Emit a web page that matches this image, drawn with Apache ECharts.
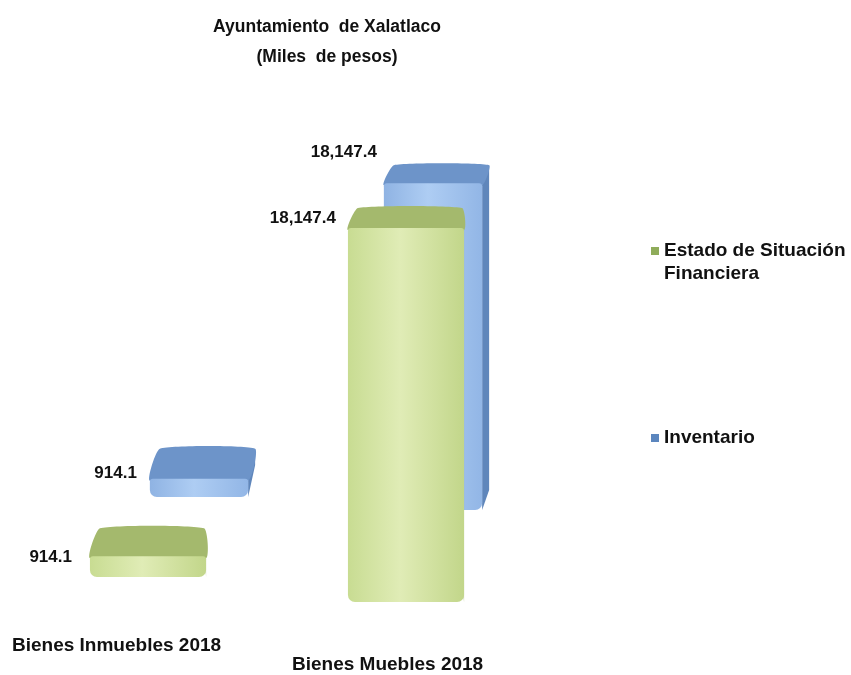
<!DOCTYPE html>
<html><head><meta charset="utf-8">
<script src="https://cdn.jsdelivr.net/npm/echarts@6/dist/echarts.min.js"></script>
<style>html,body{margin:0;padding:0;background:#fff}#c{width:851px;height:675px}</style>
</head><body><div id="c"></div>
<script>
var categories = ['Bienes Inmuebles 2018', 'Bienes Muebles 2018'];
var seriesNames = ['Estado de Situación\nFinanciera', 'Inventario'];
var estadoValues = [914.1, 18147.4];
var inventarioValues = [914.1, 18147.4];
var titleLines = ['Ayuntamiento  de Xalatlaco', '(Miles  de pesos)'];

var FONT = '"Liberation Sans", Arial, sans-serif';
function fmt(v){ return v.toLocaleString('en-US',{minimumFractionDigits:1,maximumFractionDigits:1}); }

function makeRender(cfg){
  return function(params, api){
    var i = api.value(0), v = api.value(1);
    var base = api.coord([i, 0]), top = api.coord([i, v]);
    var w = api.size([1, 0])[0] * cfg.ratio;
    var slant = i * cfg.slant;
    var x0 = base[0] - w/2, x1 = base[0] + w/2;
    var yB = base[1] + slant, yT = top[1] + slant;
    var d = cfg.depth[i];
    var dxL = cfg.dxL, dxR = cfg.dxR;
    return {type:'group', children:[
      {type:'polygon', shape:{points:[[x1,yT],[x1+dxR,yT-d],[x1+dxR,yB-d],[x1,yB]]},
        style:{fill:cfg.side}},
      {type:'polygon', shape:{points:[[x0,yT],[x1,yT],[x1+dxR,yT-d],[x0+dxL,yT-d]], smooth:0.15},
        style:{fill:cfg.top}},
      {type:'rect', shape:{x:x0, y:yT-2, width:w, height:yB-yT+2, r:[3,3,7,7]},
        style:{fill:new echarts.graphic.LinearGradient(0,0,1,0,[
          {offset:0, color:cfg.f0},{offset:0.45, color:cfg.f1},{offset:1, color:cfg.f2}])}},
      {type:'text', style:{text:fmt(v), x:x0+cfg.lx[i], y:yT+cfg.ly[i], align:'right', verticalAlign:'middle',
        font:'bold 17px ' + FONT, fill:'#111'}}
    ]};
  };
}

var iconTop = 'path://M0,0L0.01,0Z M0,8L8,8L8,16L0,16Z M0,46L0.01,46Z';
var iconMid = 'path://M0,0L0.01,0Z M0,19L8,19L8,27L0,27Z M0,46L0.01,46Z';

var option = {
  backgroundColor:'#fff',
  animation:false,
  title:{text:titleLines.join('\n'), left:322, top:7, textAlign:'center',
    textStyle:{fontFamily:FONT, fontWeight:'bold', fontSize:17.5, lineHeight:30, color:'#111'}},
  legend:{orient:'vertical', left:646, top:234, itemGap:130, itemWidth:8, itemHeight:46,
    textStyle:{fontFamily:FONT, fontWeight:'bold', fontSize:19, lineHeight:23, color:'#111'},
    data:[{name:seriesNames[0], icon:iconTop, itemStyle:{color:'#8fac5a'}},
          {name:seriesNames[1], icon:iconMid, itemStyle:{color:'#5b86be'}}]},
  grid:[
    {left:82, width:468, top:139, height:358},
    {left:19, width:516, top:167, height:410}
  ],
  xAxis:[
    {gridIndex:0, type:'category', data:categories, show:false},
    {gridIndex:1, type:'category', data:categories, show:false}
  ],
  yAxis:[
    {gridIndex:0, type:'value', min:0, max:20000, show:false},
    {gridIndex:1, type:'value', min:0, max:20000, show:false}
  ],
  series:[
    {name:seriesNames[1], type:'custom', xAxisIndex:0, yAxisIndex:0,
      data:inventarioValues.map(function(v,i){return [i,v];}),
      itemStyle:{color:'#5b86be'},
      renderItem:makeRender({ratio:0.42, slant:13, depth:[32,20], dxL:10, dxR:7,
        top:'#6d94c9', side:'#5f86bb', f0:'#8fb3e3', f1:'#aecdf3', f2:'#92b6e6',
        lx:[-13,-7], ly:[-7,-33]})},
    {name:seriesNames[0], type:'custom', xAxisIndex:1, yAxisIndex:1,
      data:estadoValues.map(function(v,i){return [i,v];}),
      itemStyle:{color:'#8fac5a'},
      renderItem:makeRender({ratio:0.45, slant:25, depth:[30,22], dxL:10, dxR:-2,
        top:'#a4b96d', side:'#98ad62', f0:'#c8dc92', f1:'#e0ecb6', f2:'#c2d68a',
        lx:[-18,-12], ly:[-1,-12]})}
  ],
  graphic:[
    {type:'text', left:12, top:636, style:{text:categories[0], font:'bold 19px ' + FONT, fill:'#111'}},
    {type:'text', left:292, top:655, style:{text:categories[1], font:'bold 19px ' + FONT, fill:'#111'}}
  ]
};
echarts.init(document.getElementById('c')).setOption(option);
</script></body></html>
